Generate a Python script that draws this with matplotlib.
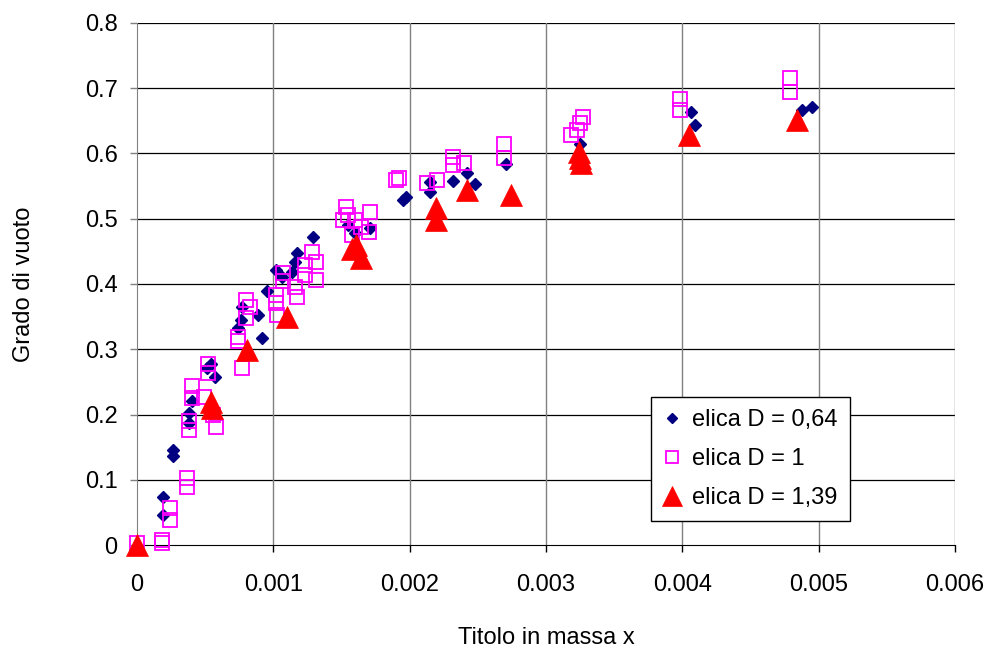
import matplotlib
matplotlib.use('Agg')
import matplotlib.pyplot as plt

plt.rcParams['font.family'] = ['Liberation Sans', 'DejaVu Sans']

# elica D = 0,64
x_d064 = [0.000188, 0.000188, 0.000262, 0.000262, 0.00038, 0.00038, 0.0004,
          0.00051, 0.00054, 0.00057, 0.00074, 0.00076, 0.00077, 0.00089,
          0.000915, 0.00095, 0.00102, 0.00106, 0.00114, 0.00116, 0.00117,
          0.00129, 0.00155, 0.0016, 0.00171, 0.00195, 0.00197, 0.00215,
          0.00215, 0.00232, 0.00242, 0.00248, 0.00271, 0.00325, 0.00406,
          0.00409, 0.00488, 0.00495]
y_d064 = [0.074, 0.046, 0.145, 0.137, 0.202, 0.187, 0.22,
          0.271, 0.278, 0.258, 0.333, 0.345, 0.365, 0.352,
          0.318, 0.39, 0.421, 0.411, 0.419, 0.434, 0.447,
          0.472, 0.49, 0.478, 0.486, 0.529, 0.533, 0.557,
          0.541, 0.558, 0.57, 0.554, 0.584, 0.615, 0.663,
          0.644, 0.667, 0.672]

# elica D = 1
x_d1 = [0.0, 0.00018, 0.00018, 0.00024, 0.00024, 0.00037, 0.00037, 0.0004,
        0.0004, 0.00038, 0.00038, 0.00049, 0.00052, 0.00052, 0.00056, 0.00058,
        0.00074, 0.00074, 0.00077, 0.0008, 0.0008, 0.00083, 0.00102, 0.00103,
        0.00102, 0.00107, 0.00107, 0.00116, 0.00117, 0.00123, 0.00123, 0.00128,
        0.00131, 0.00131, 0.00153, 0.00151, 0.00155, 0.0016, 0.00164, 0.00158,
        0.0017, 0.00171, 0.0019, 0.00192, 0.00213, 0.0022, 0.00232, 0.00232,
        0.0024, 0.00269, 0.00269, 0.00318, 0.00323, 0.00325, 0.00327, 0.00398,
        0.00398, 0.00479, 0.00479]
y_d1 = [0.003, 0.003, 0.008, 0.057, 0.038, 0.103, 0.089, 0.243,
        0.225, 0.19, 0.176, 0.227, 0.278, 0.263, 0.2, 0.181,
        0.319, 0.312, 0.271, 0.348, 0.375, 0.365, 0.383, 0.352,
        0.371, 0.417, 0.404, 0.396, 0.38, 0.429, 0.414, 0.449,
        0.434, 0.406, 0.518, 0.498, 0.506, 0.498, 0.488, 0.475,
        0.48, 0.511, 0.56, 0.563, 0.555, 0.56, 0.595, 0.582,
        0.585, 0.615, 0.593, 0.628, 0.636, 0.646, 0.656, 0.684,
        0.667, 0.715, 0.694]

# elica D = 1,39
x_d139 = [0.0, 0.00054, 0.00055, 0.00081, 0.0011, 0.00158, 0.00164, 0.00161,
          0.00219, 0.00219, 0.00242, 0.00274, 0.00324, 0.00325, 0.00326,
          0.00405, 0.00484]
y_d139 = [0.0, 0.219, 0.21, 0.299, 0.35, 0.453, 0.44, 0.46,
          0.516, 0.498, 0.544, 0.536, 0.603, 0.593, 0.585,
          0.628, 0.651]

xticks = [0, 0.001, 0.002, 0.003, 0.004, 0.005, 0.006]
xtick_labels = ['0', '0.001', '0.002', '0.003', '0.004', '0.005', '0.006']
yticks = [0, 0.1, 0.2, 0.3, 0.4, 0.5, 0.6, 0.7, 0.8]
ytick_labels = ['0', '0.1', '0.2', '0.3', '0.4', '0.5', '0.6', '0.7', '0.8']

fig = plt.figure(figsize=(9.91, 6.52), dpi=100)
ax = fig.add_axes([137 / 991, 107 / 652, 818 / 991, 522 / 652])

# grid: horizontal black, vertical gray (Excel look)
for yv in yticks[1:]:
    ax.axhline(yv, color='black', lw=0.9, zorder=1)
for xv in xticks[1:]:
    ax.axvline(xv, color='#808080', lw=1.0, zorder=1)

ax.plot(x_d064, y_d064, linestyle='none', marker='D', ms=6.2,
        color='#000080', mec='#000080', label='elica D = 0,64', zorder=3, clip_on=False)
ax.plot(x_d1, y_d1, linestyle='none', marker='s', ms=9.5, mfc='none',
        mec='#ff00ff', mew=1.3, label='elica D = 1', zorder=4, clip_on=False)
ax.plot(x_d139, y_d139, linestyle='none', marker='^', ms=16,
        color='#ff0000', mec='#ff0000', mew=0.5, label='elica D = 1,39', zorder=5, clip_on=False)

ax.set_xlim(0, 0.006)
ax.set_ylim(0, 0.8)
ax.set_xticks(xticks)
ax.set_xticklabels(xtick_labels)
ax.set_yticks(yticks)
ax.set_yticklabels(ytick_labels)
ax.tick_params(axis='x', direction='out', length=5, width=1, pad=16, labelsize=17)
ax.tick_params(axis='y', direction='out', length=5, width=1, pad=9, labelsize=17,
               color='#808080')

ax.spines['top'].set_visible(False)
ax.spines['right'].set_visible(False)
ax.spines['left'].set_color('#808080')
ax.spines['bottom'].set_color('black')

ax.set_xlabel('Titolo in massa x', fontsize=17, labelpad=22)
ax.set_ylabel('Grado di vuoto', fontsize=17, labelpad=36)

leg = ax.legend(loc='upper left', bbox_to_anchor=(651 / 991, 1 - 397 / 652),
                bbox_transform=fig.transFigure, fontsize=17, frameon=True,
                fancybox=False, edgecolor='black', framealpha=1,
                handlelength=0.8, handletextpad=0.45, labelspacing=0.72,
                borderpad=0.5, borderaxespad=0, markerscale=0.9)
leg.get_frame().set_linewidth(1.0)

fig.savefig('out.png', dpi=100)
